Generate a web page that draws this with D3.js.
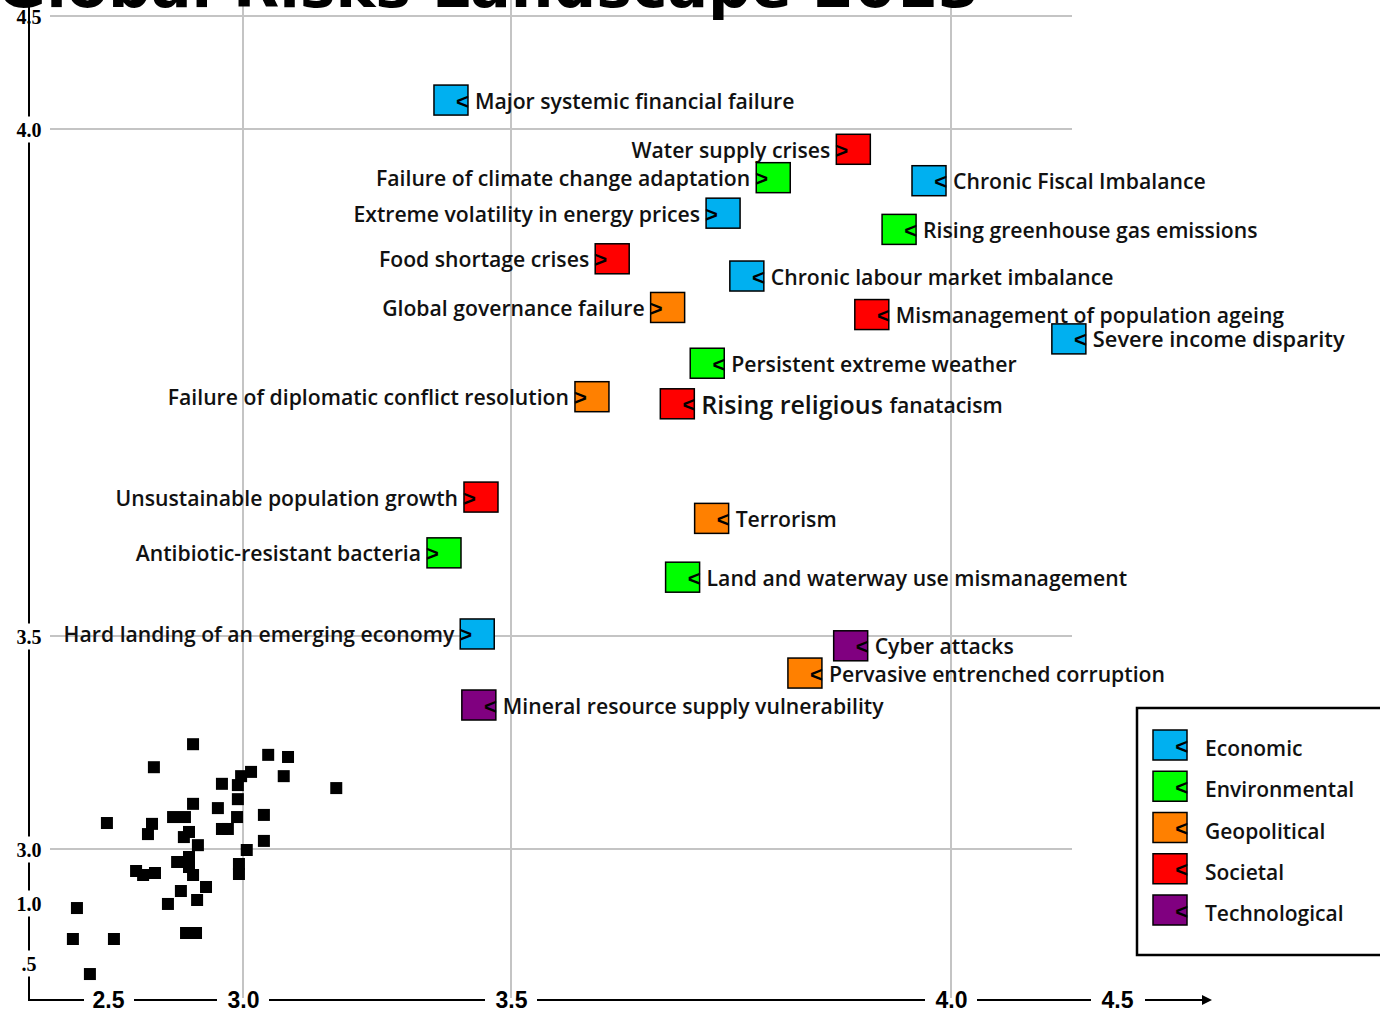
<!DOCTYPE html>
<html><head><meta charset="utf-8">
<script src="https://cdn.jsdelivr.net/npm/d3@7"></script>
<style>body{margin:0;background:#fff}svg{display:block}</style>
</head><body><svg id="c" width="1380" height="1012"></svg>
<script>
const title = "Global Risks Landscape 2013";
const categories = ["Economic","Environmental","Geopolitical","Societal","Technological"];
const categoryColors = ["#00B0F0","#00FF00","#FF8000","#FF0000","#800080"];

const riskNames = [
  "Major systemic financial failure","Water supply crises","Failure of climate change adaptation",
  "Chronic Fiscal Imbalance","Extreme volatility in energy prices","Rising greenhouse gas emissions",
  "Food shortage crises","Chronic labour market imbalance","Global governance failure",
  "Mismanagement of population ageing","Severe income disparity","Persistent extreme weather",
  "Failure of diplomatic conflict resolution","Rising religious fanatacism","Unsustainable population growth",
  "Terrorism","Antibiotic-resistant bacteria","Land and waterway use mismanagement",
  "Hard landing of an emerging economy","Cyber attacks","Pervasive entrenched corruption",
  "Mineral resource supply vulnerability"
];
const riskCategories = [
  "Economic","Societal","Environmental","Economic","Economic","Environmental",
  "Societal","Economic","Geopolitical","Societal","Economic","Environmental",
  "Geopolitical","Societal","Societal","Geopolitical","Environmental","Environmental",
  "Economic","Technological","Geopolitical","Technological"
];
const riskLikelihood = [3.388,3.889,3.798,3.975,3.741,3.941,3.615,3.768,3.678,3.910,4.355,3.723,
  3.592,3.689,3.444,3.728,3.375,3.695,3.437,3.886,3.834,3.440];
const riskImpact = [4.128,3.980,3.952,3.949,3.917,3.901,3.872,3.855,3.824,3.817,3.793,3.769,
  3.736,3.729,3.637,3.616,3.582,3.558,3.502,3.477,3.413,3.338];
const riskLabelSide = ["right","left","left","right","left","right","left","right","left","right","right","right",
  "left","right","left","right","left","right","left","right","right","right"];

const clusterLikelihood = [2.815,3.047,3.084,2.670,3.015,2.993,3.076,3.174,2.922,2.981,2.981,2.815,2.907,3.039,
  2.496,2.741,2.785,2.978,2.663,2.922,2.944,2.648,2.800,2.781,3.039,2.833,3.007,2.800,2.756,2.985,2.985,
  2.604,2.630,2.674,2.800,2.815,2.863,2.770,2.830,2.722,2.385,2.789,2.826,2.370,2.522,2.433];
const clusterImpact = [3.246,3.221,3.216,3.192,3.181,3.171,3.171,3.143,3.153,3.150,3.117,3.106,3.096,3.080,
  3.061,3.075,3.075,3.075,3.059,3.047,3.047,3.035,3.040,3.028,3.019,3.009,2.963,2.704,2.519,2.444,2.074,
  2.185,2.037,2.111,2.333,2.037,1.593,1.444,1.111,0.992,0.958,0.750,0.750,0.700,0.700,0.408];

const xTickValues = [2.5,3.0,3.5,4.0,4.5];
const xTickLabels = ["2.5","3.0","3.5","4.0","4.5"];
const yTickValues = [4.5,4.0,3.5,3.0,1.0,0.5];
const yTickLabels = ["4.5","4.0","3.5","3.0","1.0",".5"];
const gridXValues = [3.0,3.5,4.0];
const gridYValues = [4.5,4.0,3.5,3.0];

const svg = d3.select("#c");
const x = d3.scaleLinear().domain(xTickValues).range([108,243,511,951,1117]);
const y = d3.scaleLinear().domain(yTickValues).range([16,129,636,849,903,963]);
const color = d3.scaleOrdinal().domain(categories).range(categoryColors);

const labelFont = "'Open Sans', sans-serif";

// gridlines
svg.append("g").selectAll("line").data(gridYValues).join("line")
  .attr("x1",50).attr("x2",1072).attr("y1",d=>y(d)).attr("y2",d=>y(d))
  .attr("stroke","#c4c4c4").attr("stroke-width",2);
svg.append("g").selectAll("line").data(gridXValues).join("line")
  .attr("x1",d=>x(d)).attr("x2",d=>x(d)).attr("y1",0).attr("y2",998)
  .attr("stroke","#c4c4c4").attr("stroke-width",2);

// y axis line
const axisX = 29, axisY = 1000;
svg.append("line").attr("x1",axisX).attr("x2",axisX).attr("y1",6).attr("y2",axisY)
  .attr("stroke","#000").attr("stroke-width",2);

// y axis labels
const yAxis = d3.axisLeft(y).tickValues(yTickValues).tickFormat((d,i)=>yTickLabels[i]).tickSize(0).tickPadding(0);
const gy = svg.append("g").attr("transform",`translate(${axisX},0)`).call(yAxis);
gy.select(".domain").remove();
gy.selectAll(".tick").each(function(d,i){
  const t = d3.select(this);
  if(i>0) t.insert("rect","text").attr("x",-16).attr("y",-13).attr("width",32).attr("height",26).attr("fill","#fff");
});
gy.selectAll("text").attr("x",0).attr("dy",null).attr("dominant-baseline","central")
  .attr("text-anchor","middle").attr("font-family","'Liberation Serif', serif")
  .attr("font-weight","bold").attr("font-size",20).attr("fill","#000");

// x axis labels
const xAxis = d3.axisBottom(x).tickValues(xTickValues).tickFormat((d,i)=>xTickLabels[i]).tickSize(0).tickPadding(0);
const gx = svg.append("g").attr("transform",`translate(0,${axisY})`).call(xAxis);
gx.select(".domain").remove();
gx.selectAll("text").attr("y",0).attr("dy",null).attr("dominant-baseline","central")
  .attr("font-family","'Liberation Sans', Arial, sans-serif").attr("font-weight","bold")
  .attr("font-size",23).attr("fill","#000");

// x axis line segments with gaps
const xs = xTickValues.map(x);
const segs = [[axisX-1, xs[0]-24]];
for(let i=0;i<xs.length-1;i++) segs.push([xs[i]+26, xs[i+1]-26]);
svg.append("defs").append("marker").attr("id","arr").attr("viewBox","0 0 10 10")
  .attr("refX",8).attr("refY",5).attr("markerWidth",5).attr("markerHeight",5).attr("orient","auto")
  .append("path").attr("d","M0,0L10,5L0,10z").attr("fill","#000");
svg.append("g").selectAll("line").data(segs).join("line")
  .attr("x1",d=>d[0]).attr("x2",d=>d[1]).attr("y1",axisY).attr("y2",axisY)
  .attr("stroke","#000").attr("stroke-width",2);
svg.append("line").attr("x1",xs[xs.length-1]+28).attr("x2",1210).attr("y1",axisY).attr("y2",axisY)
  .attr("stroke","#000").attr("stroke-width",2).attr("marker-end","url(#arr)");

// cluster points
svg.append("g").selectAll("rect").data(clusterLikelihood.map((v,i)=>[v,clusterImpact[i]])).join("rect")
  .attr("x",d=>x(d[0])-6).attr("y",d=>y(d[1])-6).attr("width",12).attr("height",12).attr("fill","#000");

// risks
const BW = 34, BH = 30;
const risks = riskNames.map((n,i)=>({name:n,cat:riskCategories[i],lx:riskLikelihood[i],im:riskImpact[i],side:riskLabelSide[i]}));
const rg = svg.append("g").selectAll("g").data(risks).join("g")
  .attr("transform",d=>`translate(${x(d.lx)},${y(d.im)})`);
rg.append("rect").attr("x",-BW/2).attr("y",-BH/2).attr("width",BW).attr("height",BH)
  .attr("fill",d=>color(d.cat)).attr("stroke","#000").attr("stroke-width",1.5);
rg.append("text").text(d=>d.side==="right"?"<":">")
  .attr("x",d=>d.side==="right"?BW/2+1:-BW/2-1)
  .attr("text-anchor",d=>d.side==="right"?"end":"start")
  .attr("y",1).attr("dominant-baseline","central")
  .attr("font-family","'Liberation Sans', Arial, sans-serif").attr("font-weight","bold").attr("font-size",22);
const lt = rg.append("text")
  .attr("x",d=>d.side==="right"?BW/2+7:-BW/2-6)
  .attr("text-anchor",d=>d.side==="right"?"start":"end")
  .attr("y",0).attr("dominant-baseline","central")
  .attr("font-family",labelFont).attr("font-weight",600).attr("font-size",21.2).attr("fill","#111");
lt.each(function(d){
  const t = d3.select(this);
  if(d.name==="Rising religious fanatacism"){
    t.append("tspan").attr("font-size",25).text("Rising religious ");
    t.append("tspan").text("fanatacism");
  } else if(d.name==="Severe income disparity"){
    t.attr("font-size",21.8).text(d.name);
  } else t.text(d.name);
});

// legend
const lg = svg.append("g");
lg.append("rect").attr("x",1137).attr("y",708).attr("width",260).attr("height",247)
  .attr("fill","#fff").attr("stroke","#000").attr("stroke-width",2.5);
const ly = d3.scalePoint().domain(categories).range([745,910]);
const li = lg.selectAll("g").data(categories).join("g").attr("transform",d=>`translate(1170,${ly(d)})`);
li.append("rect").attr("x",-BW/2).attr("y",-BH/2).attr("width",BW).attr("height",BH)
  .attr("fill",d=>color(d)).attr("stroke","#000").attr("stroke-width",1.5);
li.append("text").text("<").attr("x",BW/2+1).attr("text-anchor","end").attr("y",1)
  .attr("dominant-baseline","central").attr("font-family","'Liberation Sans', Arial, sans-serif")
  .attr("font-weight","bold").attr("font-size",22);
li.append("text").text(d=>d).attr("x",35).attr("y",3).attr("dominant-baseline","central")
  .attr("font-family",labelFont).attr("font-weight",600).attr("font-size",21).attr("fill","#111");

// title
svg.append("text").text(title).attr("x",-3).attr("y",7)
  .attr("font-family","'DejaVu Sans', sans-serif").attr("font-weight","bold").attr("font-size",60).attr("fill","#000");
</script></body></html>
